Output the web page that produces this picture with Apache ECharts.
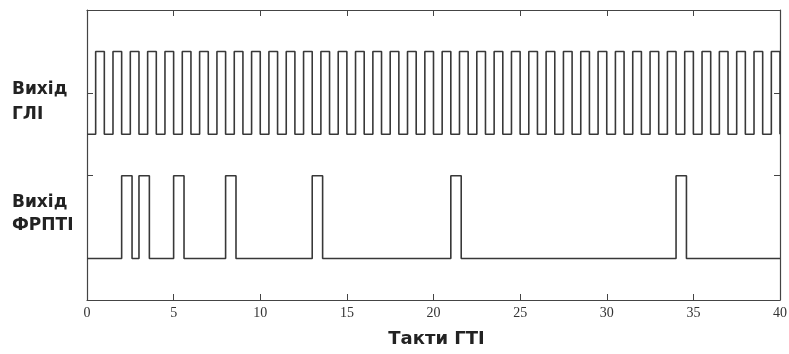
<!DOCTYPE html>
<html>
<head>
<meta charset="utf-8">
<script src="https://cdn.jsdelivr.net/npm/echarts@6/dist/echarts.min.js"></script>
<style>
  html, body { margin: 0; padding: 0; background: #fff; }
  #chart { width: 789px; height: 354px; }
</style>
</head>
<body>
<div id="chart"></div>
<script>
// Clock (ГЛІ) edges, in GTI cycles
const clockRise = [0.5, 1.5, 2.5, 3.5, 4.5, 5.5, 6.5, 7.5, 8.5, 9.5,
  10.5, 11.5, 12.5, 13.5, 14.5, 15.5, 16.5, 17.5, 18.5, 19.5,
  20.5, 21.5, 22.5, 23.5, 24.5, 25.5, 26.5, 27.5, 28.5, 29.5,
  30.5, 31.5, 32.5, 33.5, 34.5, 35.5, 36.5, 37.5, 38.5, 39.5]
const clockFall = [1, 2, 3, 4, 5, 6, 7, 8, 9, 10,
  11, 12, 13, 14, 15, 16, 17, 18, 19, 20,
  21, 22, 23, 24, 25, 26, 27, 28, 29, 30,
  31, 32, 33, 34, 35, 36, 37, 38, 39, 40]
const clockLevels = [4, 6]

// ФРПТІ output pulses
const pulseRise = [2, 3, 5, 8, 13, 21, 34]
const pulseFall = [2.6, 3.6, 5.6, 8.6, 13.6, 21.6, 34.6]
const pulseLevels = [1, 3]

const xTicks = [0, 5, 10, 15, 20, 25, 30, 35, 40]
const yTicks = [3, 5]

// turn edge lists into a square-wave polyline
function wave(rise, fall, levels, end) {
  const [lo, hi] = levels
  const pts = [[0, lo]]
  rise.forEach((r, i) => {
    pts.push([r, lo], [r, hi], [fall[i], hi], [fall[i], lo])
  })
  if (pts[pts.length - 1][0] < end) pts.push([end, lo])
  return pts
}

const chart = echarts.init(document.getElementById('chart'))

const axisColor = '#444'
const waveColor = '#383838'

const option = {
  animation: false,
  grid: { left: 87, right: 9, top: 10, bottom: 54, outerBoundsMode: 'none' },
  xAxis: [
    {
      type: 'value',
      min: 0,
      max: 40,
      interval: 5,
      position: 'bottom',
      name: 'Такти ГТІ',
      nameLocation: 'middle',
      nameGap: 30,
      nameTextStyle: { fontFamily: 'DejaVu Sans', fontWeight: 'bold', fontSize: 18, color: '#222', padding: [0, 0, 0, 6] },
      axisLine: { onZero: false, lineStyle: { color: axisColor, width: 1.2 } },
      axisTick: { inside: true, length: 6, lineStyle: { color: axisColor } },
      axisLabel: {
        fontFamily: 'Liberation Serif', fontSize: 14, color: '#333', margin: 6,
        customValues: xTicks
      },
      splitLine: { show: false }
    },
    {
      type: 'value',
      min: 0,
      max: 40,
      interval: 5,
      position: 'top',
      axisLine: { onZero: false, lineStyle: { color: axisColor, width: 1.2 } },
      axisTick: { inside: true, length: 6, lineStyle: { color: axisColor } },
      axisLabel: { show: false },
      splitLine: { show: false }
    }
  ],
  yAxis: [
    {
      type: 'value',
      min: 0,
      max: 7,
      position: 'left',
      axisLine: { show: true, onZero: false, lineStyle: { color: axisColor, width: 1.2 } },
      axisTick: { show: true, inside: true, length: 6, customValues: yTicks, lineStyle: { color: axisColor } },
      axisLabel: { show: false },
      splitLine: { show: false }
    },
    {
      type: 'value',
      min: 0,
      max: 7,
      position: 'right',
      axisLine: { show: true, onZero: false, lineStyle: { color: axisColor, width: 1.2 } },
      axisTick: { show: true, inside: true, length: 6, customValues: yTicks, lineStyle: { color: axisColor } },
      axisLabel: { show: false },
      splitLine: { show: false }
    }
  ],
  graphic: [
    {
      type: 'text', left: 12, top: 77,
      style: { text: 'Вихід\nГЛІ', fontFamily: 'DejaVu Sans', fontWeight: 'bold', fontSize: 17, lineHeight: 25, fill: '#222' }
    },
    {
      type: 'text', left: 12, top: 191,
      style: { text: 'Вихід\nФРПТІ', fontFamily: 'DejaVu Sans', fontWeight: 'bold', fontSize: 17, lineHeight: 23, fill: '#222' }
    }
  ],
  series: [
    {
      name: 'ГЛІ',
      type: 'line',
      showSymbol: false,
      lineStyle: { color: waveColor, width: 1.6 },
      data: wave(clockRise, clockFall, clockLevels, 40)
    },
    {
      name: 'ФРПТІ',
      type: 'line',
      showSymbol: false,
      lineStyle: { color: waveColor, width: 1.6 },
      data: wave(pulseRise, pulseFall, pulseLevels, 40)
    }
  ]
}

chart.setOption(option)
</script>
</body>
</html>
